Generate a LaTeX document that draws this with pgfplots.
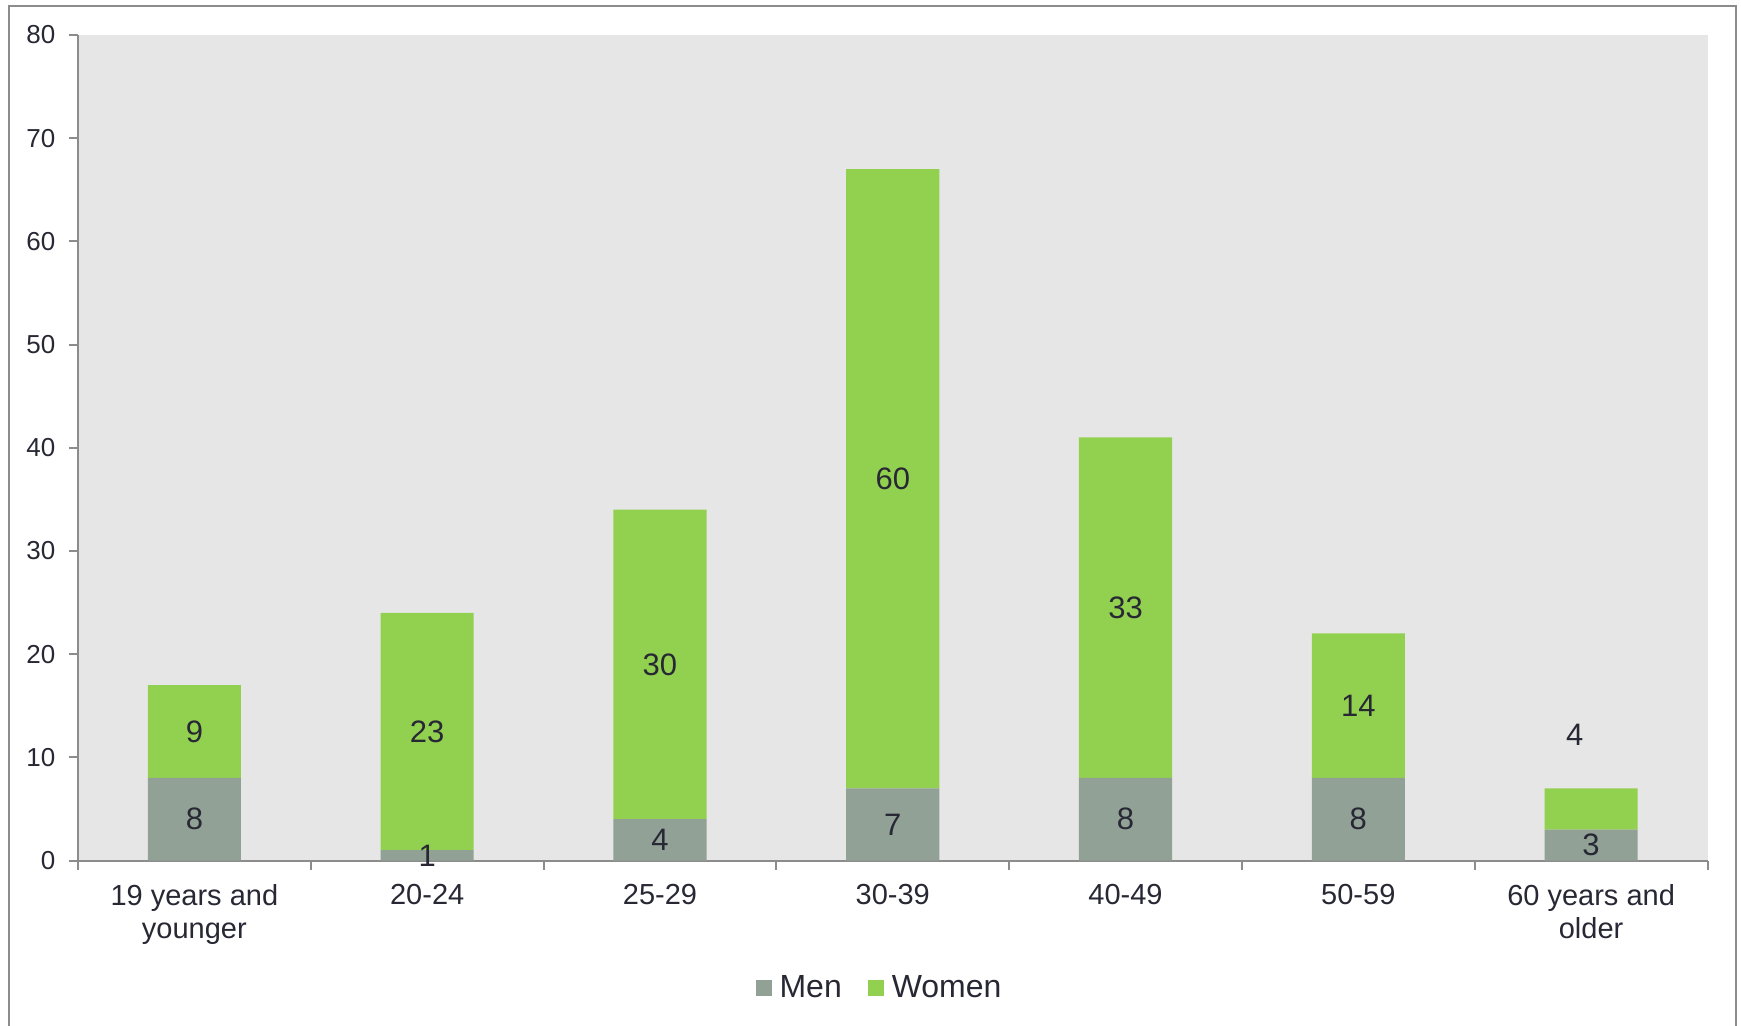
\documentclass[border=0pt]{standalone}
\usepackage{pgfplots}
\pgfplotsset{compat=1.18}
\usepackage{fontspec}
\setmainfont{Liberation Sans}

\definecolor{menc}{RGB}{145,161,150}
\definecolor{womenc}{RGB}{146,208,80}
\definecolor{plotbg}{RGB}{230,230,230}
\definecolor{axisgray}{RGB}{140,140,140}
\definecolor{txt}{RGB}{40,40,52}

\tikzset{lab/.style={font=\fontsize{15.5}{18}\selectfont, text=txt}}

\begin{document}
\begin{tikzpicture}
\useasboundingbox (0,0) rectangle (870.5pt,512.5pt);
% outer chart frame
\draw[axisgray, line width=1pt] (4.5pt,-5pt) -- (4.5pt,509.25pt) -- (868pt,509.25pt) -- (868pt,-5pt);

\begin{axis}[
  at={(39pt,82.25pt)}, anchor=south west,
  scale only axis,
  width=814.75pt, height=412.75pt,
  ybar stacked,
  bar width=0.4,
  xmin=-0.5, xmax=6.5,
  ymin=0, ymax=80,
  ytick={0,10,...,80},
  xtick={0,...,6},
  xticklabels={{19 years and\\younger},{20-24},{25-29},{30-39},{40-49},{50-59},{60 years and\\older}},
  minor xtick={-0.5,0.5,...,6.5},
  axis x line*=bottom,
  axis y line*=left,
  axis line style={axisgray, line width=1pt},
  axis background/.style={fill=plotbg},
  tick align=outside,
  major tick length=4.5pt,
  minor tick length=4.5pt,
  major x tick style={draw=none},
  minor x tick style={axisgray, line width=1pt},
  major y tick style={axisgray, line width=1pt},
  /pgf/number format/assume math mode=true,
  yticklabel style={font=\fontsize{13}{15}\selectfont, text=txt, xshift=-3.3pt},
  xticklabel style={font=\fontsize{14.5}{16.6}\selectfont, text=txt, align=center, yshift=-4pt},
  legend style={at={(0.4925,-0.1545)}, anchor=center, draw=none, fill=none,
    font=\fontsize{16}{19}\selectfont, text=txt,
    legend columns=2,
    /tikz/every even column/.append style={column sep=11pt}},
  legend image code/.code={\fill[#1, draw=none] (0pt,-4pt) rectangle (8pt,4pt); \path (10pt,0pt);},
]
\addplot[fill=menc, draw=none] coordinates {(0,8) (1,1) (2,4) (3,7) (4,8) (5,8) (6,3)};
\addlegendentry{Men}
\addplot[fill=womenc, draw=none] coordinates {(0,9) (1,23) (2,30) (3,60) (4,33) (5,14) (6,4)};
\addlegendentry{Women}

% anchor points for the value labels, centred in each segment
\coordinate (m0) at (axis cs:0,4);    \coordinate (w0) at (axis cs:0,12.5);
\coordinate (m1) at (axis cs:1,0.5);  \coordinate (w1) at (axis cs:1,12.5);
\coordinate (m2) at (axis cs:2,2);    \coordinate (w2) at (axis cs:2,19);
\coordinate (m3) at (axis cs:3,3.5);  \coordinate (w3) at (axis cs:3,37);
\coordinate (m4) at (axis cs:4,4);    \coordinate (w4) at (axis cs:4,24.5);
\coordinate (m5) at (axis cs:5,4);    \coordinate (w5) at (axis cs:5,15);
\coordinate (m6) at (axis cs:6,1.5);  \coordinate (w6) at (axis cs:5.93,12.2);
\end{axis}

% value labels drawn above the bars
\node[lab] at (m0) {8};  \node[lab] at (w0) {9};
\node[lab] at (m1) {1};  \node[lab] at (w1) {23};
\node[lab] at (m2) {4};  \node[lab] at (w2) {30};
\node[lab] at (m3) {7};  \node[lab] at (w3) {60};
\node[lab] at (m4) {8};  \node[lab] at (w4) {33};
\node[lab] at (m5) {8};  \node[lab] at (w5) {14};
\node[lab] at (m6) {3};  \node[lab] at (w6) {4};
\end{tikzpicture}
\end{document}
